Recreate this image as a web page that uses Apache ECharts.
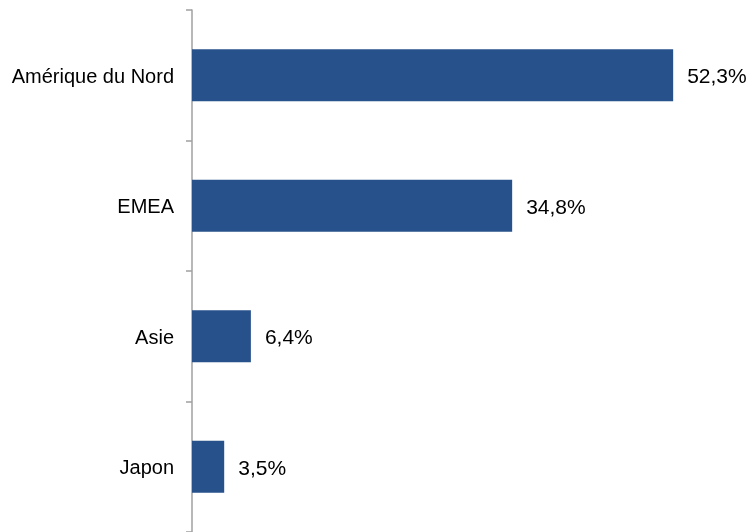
<!DOCTYPE html>
<html><head><meta charset="utf-8">
<script src="https://cdn.jsdelivr.net/npm/echarts@6/dist/echarts.min.js"></script>
<style>html,body{margin:0;padding:0;background:#fff}#c{width:752px;height:532px}</style>
</head><body><div id="c"></div>
<script>
const categories = ["Amérique du Nord", "EMEA", "Asie", "Japon"];
const values = [52.3, 34.8, 6.4, 3.5];

const chart = echarts.init(document.getElementById('c'), null, {renderer: 'canvas'});
chart.setOption({
  animation: false,
  grid: {left: 192, right: 8, top: 10, bottom: -5, containLabel: false},
  xAxis: {type: 'value', min: 0, max: 60, show: false},
  yAxis: {
    type: 'category', data: categories, inverse: true,
    axisLine: {lineStyle: {color: '#a0a0a0', width: 1.5}},
    axisTick: {show: true, length: 6, lineStyle: {color: '#a0a0a0', width: 1.5}},
    axisLabel: {margin: 18, color: '#000', fontFamily: 'Liberation Sans, Arial, sans-serif', fontSize: 20,
      formatter: v => '{a|' + v + '}',
      rich: {a: {fontFamily: 'Liberation Sans, Arial, sans-serif', fontSize: 20, color: '#000', padding: [4, 0, 0, 0]}}},
    splitLine: {show: false}
  },
  series: [{
    type: 'bar', data: values, barCategoryGap: '60%',
    itemStyle: {color: '#27518a'},
    label: {show: true, position: 'right', distance: 14, color: '#000', offset: [0, 2],
      fontFamily: 'Liberation Sans, Arial, sans-serif', fontSize: 21,
      formatter: p => p.value.toFixed(1).replace('.', ',') + '%'}
  }]
});
</script></body></html>
